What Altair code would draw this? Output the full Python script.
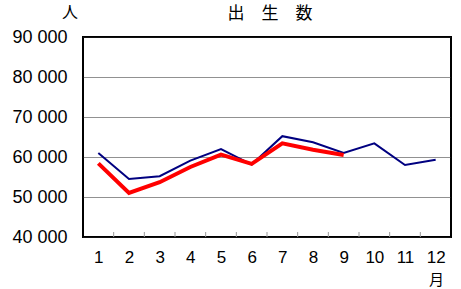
import altair as alt
import pandas as pd

months = list(range(1, 13))
series_prev = [61000, 54500, 55200, 59100, 62000, 58100, 65200, 63700, 61000, 63400, 58000, 59300]
series_curr = [58400, 51000, 53700, 57500, 60600, 58300, 63400, 61800, 60500]
tick_bounds = [1.5, 2.5, 3.5, 4.5, 5.5, 6.5, 7.5, 8.5, 9.5, 10.5, 11.5]
y_unit = ["人"]
chart_title = ["出　生　数"]

df_prev = pd.DataFrame({"month": months, "births": series_prev})
df_curr = pd.DataFrame({"month": months[:len(series_curr)], "births": series_curr})
df_ticks = pd.DataFrame({"month": tick_bounds, "births": [40000] * len(tick_bounds),
                         "births2": [41250] * len(tick_bounds)})
df_unit = pd.DataFrame({"t": y_unit})
df_title = pd.DataFrame({"t": chart_title})

NUM_FONT = "Liberation Sans"
CJK_FONT = "Noto Sans CJK JP"

xscale = alt.Scale(domain=[0.5, 12.5], nice=False, zero=False)
yscale = alt.Scale(domain=[40000, 90000], nice=False, zero=False)

x_axis = alt.Axis(
    values=months, ticks=False, domain=False, grid=False,
    labelFont=NUM_FONT, labelFontSize=17, labelColor="black", labelPadding=12,
    labelFlush=False, labelOverlap=False,
    title="月", titleFont=CJK_FONT, titleFontSize=15, titleFontWeight="normal",
    titleColor="black", titleX=353, titleY=42, titleAlign="center", titleBaseline="middle",
)
y_axis = alt.Axis(
    values=[40000, 50000, 60000, 70000, 80000, 90000],
    labelExpr="replace(format(datum.value, ','), ',', ' ')",
    ticks=False, domain=False, grid=True,
    gridColor="#222222", gridDash=[1, 1], gridWidth=1,
    labelFont=NUM_FONT, labelFontSize=18, labelColor="black", labelPadding=16,
    labelFlush=False, labelOverlap=False, labelBaseline="middle",
    title=None,
)

def X():
    return alt.X("month:Q", scale=xscale, axis=x_axis)

def Y():
    return alt.Y("births:Q", scale=yscale, axis=y_axis)

ticks = alt.Chart(df_ticks).mark_rule(color="#999999", strokeWidth=1).encode(
    x=X(), y=Y(), y2="births2:Q"
)
line_prev = alt.Chart(df_prev).mark_line(color="#000080", strokeWidth=2).encode(x=X(), y=Y())
line_curr = alt.Chart(df_curr).mark_line(color="#FF0000", strokeWidth=4).encode(x=X(), y=Y())
unit = alt.Chart(df_unit).mark_text(
    font=CJK_FONT, fontSize=16, color="black", align="center", baseline="middle"
).encode(text="t:N", x=alt.value(-13), y=alt.value(-24))
title = alt.Chart(df_title).mark_text(
    font=CJK_FONT, fontSize=17, color="black", align="center", baseline="middle"
).encode(text="t:N", x=alt.value(187), y=alt.value(-23))

chart = alt.layer(ticks, line_prev, line_curr, unit, title).properties(
    width=368, height=200,
    autosize=alt.AutoSizeParams(type="none"),
    padding={"left": 83, "top": 37, "right": 10, "bottom": 52},
).configure(
    background="white"
).configure_view(
    stroke="black", strokeWidth=2
)

chart.save("out.html", embed_options={"renderer": "svg", "actions": False})
